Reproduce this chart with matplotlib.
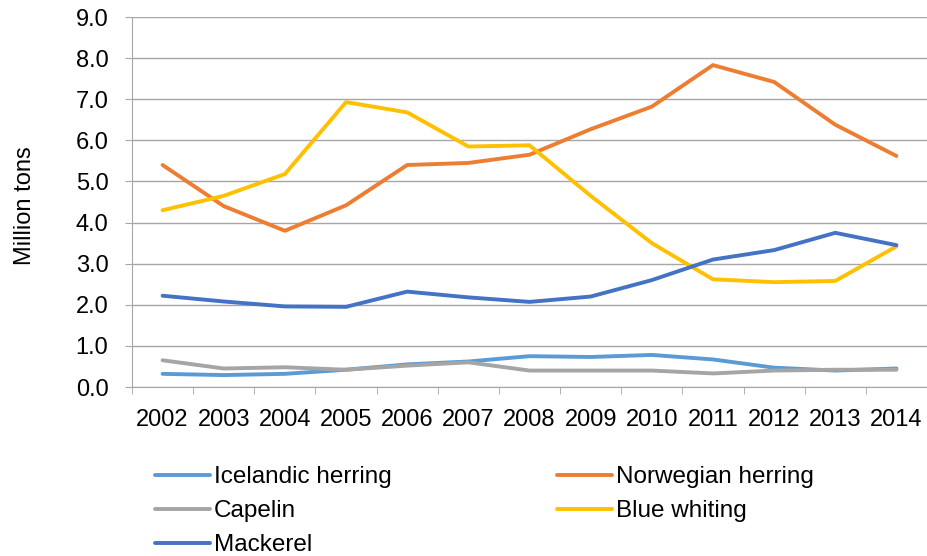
import matplotlib
matplotlib.use('Agg')
import matplotlib.pyplot as plt

plt.rcParams['font.family'] = ['Liberation Sans', 'DejaVu Sans']

years = ['2002', '2003', '2004', '2005', '2006', '2007', '2008',
         '2009', '2010', '2011', '2012', '2013', '2014']

icelandic_herring = [0.32, 0.29, 0.32, 0.42, 0.55, 0.62, 0.75, 0.73, 0.78, 0.67, 0.47, 0.40, 0.45]
norwegian_herring = [5.40, 4.40, 3.80, 4.42, 5.40, 5.45, 5.65, 6.27, 6.82, 7.83, 7.42, 6.38, 5.62]
capelin = [0.65, 0.45, 0.48, 0.42, 0.52, 0.60, 0.40, 0.40, 0.40, 0.33, 0.40, 0.42, 0.42]
blue_whiting = [4.30, 4.65, 5.18, 6.93, 6.68, 5.85, 5.88, 4.65, 3.50, 2.62, 2.55, 2.58, 3.42]
mackerel = [2.22, 2.08, 1.96, 1.95, 2.32, 2.18, 2.07, 2.20, 2.60, 3.10, 3.33, 3.75, 3.45]

series = [
    ('Icelandic herring', icelandic_herring, '#5B9BD5'),
    ('Norwegian herring', norwegian_herring, '#ED7D31'),
    ('Capelin', capelin, '#A5A5A5'),
    ('Blue whiting', blue_whiting, '#FFC000'),
    ('Mackerel', mackerel, '#4472C4'),
]

fs = 17

fig = plt.figure(figsize=(9.27, 5.56), dpi=100)
ax = fig.add_axes([132/927, (556-387)/556, (927-132)/927, (387-17)/556])

x = list(range(len(years)))
handles = {}
for name, vals, col in series:
    ln, = ax.plot(x, vals, color=col, lw=2.8, solid_capstyle='round',
                  solid_joinstyle='round', label=name)
    handles[name] = ln

ax.set_xlim(-0.5, len(years) - 0.5)
ax.set_ylim(0, 9)
ax.set_yticks([i * 1.0 for i in range(10)])
ax.set_yticklabels(['%.1f' % v for v in range(10)])
ax.set_xticks(x)
ax.set_xticklabels(years)
ax.set_xticks([i - 0.5 for i in range(len(years) + 1)], minor=True)

ax.grid(axis='y', color='#A6A6A6', lw=1.0)
ax.set_axisbelow(True)
for s in ['top', 'right']:
    ax.spines[s].set_visible(False)
ax.spines['left'].set_color('#A6A6A6')
ax.spines['bottom'].set_color('#A6A6A6')

ax.tick_params(axis='x', which='major', length=0, labelsize=fs, pad=16)
ax.tick_params(axis='x', which='minor', length=5, color='#A6A6A6')
ax.tick_params(axis='y', length=5, color='#A6A6A6', labelsize=fs, pad=12)
ax.set_ylabel('Million tons', fontsize=fs)
ax.yaxis.set_label_coords((36 - 132) / 795, 0.49)

h1 = [handles['Icelandic herring'], handles['Capelin'], handles['Mackerel']]
h2 = [handles['Norwegian herring'], handles['Blue whiting']]
leg_kw = dict(frameon=False, fontsize=17.5, handlelength=2.26, handletextpad=0.17,
              labelspacing=0.5, borderaxespad=0, borderpad=0)
fig.legend(h1, [h.get_label() for h in h1], loc='upper left',
           bbox_to_anchor=(155/927, 1 - 466/556), **leg_kw)
fig.legend(h2, [h.get_label() for h in h2], loc='upper left',
           bbox_to_anchor=(557/927, 1 - 466/556), **leg_kw)

fig.savefig('out.png', dpi=100)
